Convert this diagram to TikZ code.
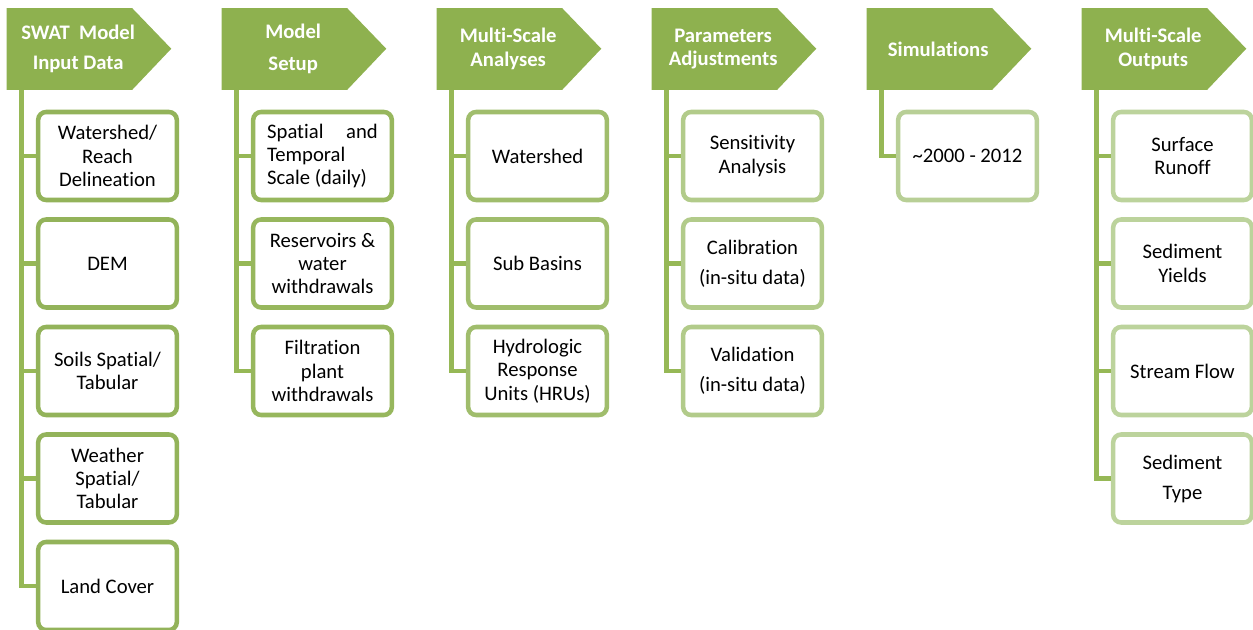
\documentclass[tikz,border=0pt]{standalone}
\usepackage{fontspec}
\setmainfont{Carlito}[Ligatures=NoCommon]
\definecolor{hdrgreen}{HTML}{8EB14F}
\definecolor{linegreen}{HTML}{96B856}
\definecolor{brdA}{HTML}{93B35A}
\definecolor{brdB}{HTML}{97B75D}
\definecolor{brdC}{HTML}{A0BD6C}
\definecolor{brdD}{HTML}{B2CB8A}
\definecolor{brdE}{HTML}{B8CF96}
\definecolor{brdF}{HTML}{BCD39C}
\tikzset{
  hdr/.style={minimum width=93.75pt, minimum height=60.75pt, inner sep=0pt},
  hdrtext/.style={text=white, font=\bfseries\fontsize{15.5}{17.5}\selectfont, inner sep=0pt, align=center},
  item/.style={draw=#1, line width=3.4pt, rounded corners=6pt, fill=white,
    minimum width=104pt, minimum height=66pt, inner sep=2pt, align=center,
    font=\fontsize{15.5}{17.5}\selectfont},
  spine/.style={linegreen, line width=3.6pt}
}
\begin{document}
\begin{tikzpicture}[x=0.75pt,y=-0.75pt]
    \useasboundingbox (0,0) rectangle (1253,630);
    \foreach \h/\x in {1/69.5,2/284.5,3/499.5,4/714.5,5/929.5,6/1144.5}{
        \node[hdr] (h\h) at (\x,49) {};
        \fill[hdrgreen] (h\h.north west) -- (h\h.north east) -- ++(39,40.5)
            -- (h\h.south east) -- (h\h.south west) -- cycle;
        \coordinate (s\h) at ([xshift=11.25pt]h\h.south west);
    }
    \node[hdrtext] (t1) at ([xshift=6.5pt]h1) {SWAT\ \ Model\\[5pt]Input Data};
    \node[hdrtext] (t2) at ([xshift=6.5pt]h2) {Model\\[7pt]Setup};
    \node[hdrtext] (t3) at ([xshift=6.5pt]h3) {Multi-Scale\\Analyses};
    \node[hdrtext] (t4) at ([xshift=6.5pt]h4) {Parameters\\Adjustments};
    \node[hdrtext] (t5) at ([xshift=6.5pt]h5) {Simulations};
    \node[hdrtext] (t6) at ([xshift=6.5pt]h6) {Multi-Scale\\Outputs};

    \node[item=brdA] (b11) at (107.5,156) {Watershed/\\Reach\\Delineation};
    \node[item=brdA] (b12) at (107.5,263.5) {DEM};
    \node[item=brdA] (b13) at (107.5,371) {Soils Spatial/\\Tabular};
    \node[item=brdA] (b14) at (107.5,478.5) {Weather\\Spatial/\\Tabular};
    \node[item=brdA] (b15) at (107.5,586) {Land Cover};

    \node[item=brdB] (b21) at (322.5,156) {\makebox[83pt]{Spatial\hfill and}\\\makebox[83pt][l]{Temporal}\\\makebox[83pt][l]{Scale (daily)}};
    \node[item=brdB] (b22) at (322.5,263.5) {Reservoirs \&\\water\\withdrawals};
    \node[item=brdB] (b23) at (322.5,371) {Filtration\\plant\\withdrawals};

    \node[item=brdC] (b31) at (537.5,156) {Watershed};
    \node[item=brdC] (b32) at (537.5,263.5) {Sub Basins};
    \node[item=brdC] (b33) at (537.5,371) {Hydrologic\\Response\\Units (HRUs)};

    \node[item=brdD] (b41) at (752.5,156) {Sensitivity\\Analysis};
    \node[item=brdD] (b42) at (752.5,263.5) {Calibration\\[5pt](in-situ data)};
    \node[item=brdD] (b43) at (752.5,371) {Validation\\[5pt](in-situ data)};

    \node[item=brdE] (b51) at (967.5,156) {\textasciitilde 2000 - 2012};

    \node[item=brdF] (b61) at (1182.5,156) {Surface\\Runoff};
    \node[item=brdF] (b62) at (1182.5,263.5) {Sediment\\Yields};
    \node[item=brdF] (b63) at (1182.5,371) {Stream Flow};
    \node[item=brdF] (b64) at (1182.5,478.5) {Sediment\\[5pt]Type};

    \foreach \b in {b11,b12,b13,b14,b15}
        \draw[spine] (s1) |- (\b.west);
    \foreach \b in {b21,b22,b23}
        \draw[spine] (s2) |- (\b.west);
    \foreach \b in {b31,b32,b33}
        \draw[spine] (s3) |- (\b.west);
    \foreach \b in {b41,b42,b43}
        \draw[spine] (s4) |- (\b.west);
    \draw[spine] (s5) |- (b51.west);
    \foreach \b in {b61,b62,b63,b64}
        \draw[spine] (s6) |- (\b.west);
\end{tikzpicture}
\end{document}
